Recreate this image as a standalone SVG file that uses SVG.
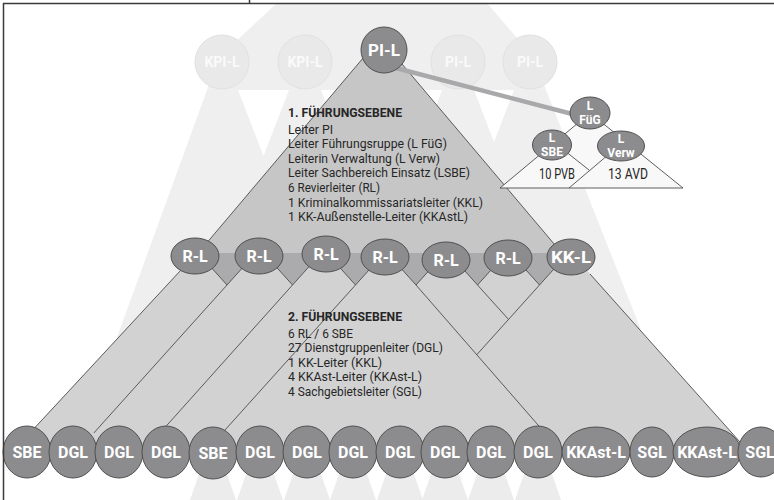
<svg xmlns="http://www.w3.org/2000/svg" width="774" height="500" viewBox="0 0 774 500">
<defs>
<style>
.fade{fill:#efeff0}
.hole{fill:#ffffff}
.ghost{fill:#e9e9ea;stroke:#e1e1e2;stroke-width:1}
.gt{font-family:Roboto,"Liberation Sans",sans-serif;font-weight:bold;font-size:14px;fill:#fafafa;text-anchor:middle}
.node{fill:#8c8c8e;stroke:#505050;stroke-width:1}
.nt{font-family:Roboto,"Liberation Sans",sans-serif;font-weight:bold;font-size:16px;fill:#ffffff;text-anchor:middle}
.st{font-family:Roboto,"Liberation Sans",sans-serif;font-weight:bold;font-size:12px;fill:#ffffff;text-anchor:middle}
.ln{fill:none;stroke:#4d4d4d;stroke-width:0.9}
.fun{fill:#ababad}
.body{font-family:Roboto,"Liberation Sans",sans-serif;font-size:12.3px;fill:#262626}
.hd{font-weight:bold}
.sub{font-family:Roboto,"Liberation Sans",sans-serif;font-size:14px;fill:#262626;text-anchor:middle}
.gtrap{fill:#ececed}
</style>
</defs>
<rect x="0" y="0" width="774" height="500" fill="#ffffff"/>

<g id="background">
<polygon class="fade" points="277,3 487,3 536,60 546,90 641,330 116,340 207,90 216,60"/>
<polygon class="hole" points="238,90 289,90 263.5,156"/>
<polygon class="hole" points="321,90 345,90 326.4,104"/>
<polygon class="hole" points="418,90 442,90 435.7,106.4"/>
<polygon class="hole" points="474,90 514,90 494,142"/>
<g class="gtrap">
<polygon points="199,474 227,474 236,500 190,500"/>
<polygon points="246,474 274,474 283,500 237,500"/>
<polygon points="293,474 321,474 330,500 284,500"/>
<polygon points="339,474 367,474 376,500 330,500"/>
<polygon points="386,474 414,474 423,500 377,500"/>
<polygon points="431,474 459,474 468,500 422,500"/>
<polygon points="477,474 505,474 514,500 468,500"/>
<polygon points="524,474 552,474 561,500 515,500"/>
</g>
</g>

<g id="ghost-nodes">
<g id="ghost-kpi1"><circle class="ghost" cx="222" cy="62" r="27"/><text class="gt" x="222" y="67">KPI-L</text></g>
<g id="ghost-kpi2"><circle class="ghost" cx="305" cy="62" r="27"/><text class="gt" x="305" y="67">KPI-L</text></g>
<g id="ghost-pi1"><circle class="ghost" cx="458" cy="62" r="27"/><text class="gt" x="458" y="67">PI-L</text></g>
<g id="ghost-pi2"><circle class="ghost" cx="530" cy="62" r="27"/><text class="gt" x="530" y="67">PI-L</text></g>
</g>

<g id="areas">
<polygon fill="#d2d2d3" points="193,257 575,257 748,451 13,451"/>
<polygon fill="#c6c6c7" points="380,38 194,258 566,258"/>
<rect class="fun" x="195" y="253" width="376" height="13"/>
<polygon class="fun" points="206.3,262 247.7,262 227,285"/>
<polygon class="fun" points="271.8,262 313.2,262 292.5,285"/>
<polygon class="fun" points="334.8,262 376.2,262 355.5,285"/>
<polygon class="fun" points="395.3,262 436.7,262 416,285"/>
<polygon class="fun" points="456.8,262 498.2,262 477.5,285"/>
<polygon class="fun" points="518.8,262 560.2,262 539.5,285"/>
</g>

<g id="connectors">
<line class="ln" x1="380" y1="38" x2="194" y2="258"/>
<line class="ln" x1="380" y1="38" x2="566" y2="258"/>
<line class="ln" x1="181" y1="270" x2="29" y2="434"/>
<line class="ln" x1="590" y1="274" x2="740" y2="442"/>
<polyline class="ln" points="206.3,262 227,285"/>
<polyline class="ln" points="247.7,262 227,285 93.8,433"/>
<polyline class="ln" points="271.8,262 292.5,285"/>
<polyline class="ln" points="313.2,262 292.5,285 160,433"/>
<polyline class="ln" points="334.8,262 355.5,285"/>
<polyline class="ln" points="376.2,262 355.5,285 222.3,433"/>
<polyline class="ln" points="395.3,262 416,285 545,433"/>
<polyline class="ln" points="436.7,262 416,285"/>
<polyline class="ln" points="456.8,262 477.5,285 508.5,319.4"/>
<polyline class="ln" points="498.2,262 477.5,285"/>
<polyline class="ln" points="518.8,262 539.5,285"/>
<polyline class="ln" points="560.2,262 539.5,285 476.8,354.7"/>
<line x1="390" y1="66.5" x2="578" y2="115.5" stroke="#a9a9ab" stroke-width="4.5" stroke-linecap="round"/>
</g>

<g id="sub-area">
<polygon fill="#f8f8f8" stroke="#4d4d4d" stroke-width="0.9" points="590,113 500,188 683,188"/>
<line class="ln" x1="560" y1="147" x2="589" y2="170"/>
<line class="ln" x1="615" y1="149" x2="569" y2="188"/>
<text class="sub" x="557" y="179" textLength="36" lengthAdjust="spacingAndGlyphs">10 PVB</text>
<text class="sub" x="628" y="179" textLength="40" lengthAdjust="spacingAndGlyphs">13 AVD</text>
</g>

<g id="node-pil"><ellipse class="node" cx="384" cy="50" rx="23" ry="23"/><text class="nt" x="384" y="56" style="font-size:17px">PI-L</text></g>
<g id="node-lfueg"><ellipse class="node" cx="590" cy="113" rx="20" ry="16"/><text class="st" x="590" y="110">L</text><text class="st" x="590" y="124">FüG</text></g>
<g id="node-lsbe"><ellipse class="node" cx="552" cy="145" rx="19.5" ry="15"/><text class="st" x="552" y="142">L</text><text class="st" x="552" y="156">SBE</text></g>
<g id="node-lverw"><ellipse class="node" cx="621" cy="146" rx="23.5" ry="15"/><text class="st" x="621" y="143">L</text><text class="st" x="621" y="157">Verw</text></g>

<g id="node-rl1"><ellipse class="node" cx="195" cy="256" rx="24" ry="18"/><text class="nt" x="195" y="262">R-L</text></g>
<g id="node-rl2"><ellipse class="node" cx="259" cy="256" rx="24" ry="18"/><text class="nt" x="259" y="262">R-L</text></g>
<g id="node-rl3"><ellipse class="node" cx="326" cy="254" rx="24" ry="18"/><text class="nt" x="326" y="260">R-L</text></g>
<g id="node-rl4"><ellipse class="node" cx="385" cy="257" rx="24" ry="18"/><text class="nt" x="385" y="263">R-L</text></g>
<g id="node-rl5"><ellipse class="node" cx="446" cy="260" rx="24" ry="18"/><text class="nt" x="446" y="266">R-L</text></g>
<g id="node-rl6"><ellipse class="node" cx="508" cy="258" rx="24" ry="18"/><text class="nt" x="508" y="264">R-L</text></g>
<g id="node-kkl"><ellipse class="node" cx="571" cy="257" rx="24" ry="18"/><text class="nt" x="571" y="263" textLength="40" lengthAdjust="spacingAndGlyphs">KK-L</text></g>

<g id="bottom-nodes">
<g id="node-sbe1"><ellipse class="node" cx="27" cy="452" rx="24" ry="26"/><text class="nt" x="27" y="458">SBE</text></g>
<g id="node-dgl1"><ellipse class="node" cx="73" cy="452" rx="24" ry="26"/><text class="nt" x="73" y="458">DGL</text></g>
<g id="node-dgl2"><ellipse class="node" cx="119" cy="452" rx="24" ry="26"/><text class="nt" x="119" y="458">DGL</text></g>
<g id="node-dgl3"><ellipse class="node" cx="166" cy="452" rx="24" ry="26"/><text class="nt" x="166" y="458">DGL</text></g>
<g id="node-sbe2"><ellipse class="node" cx="213" cy="453" rx="24" ry="26"/><text class="nt" x="213" y="459">SBE</text></g>
<g id="node-dgl4"><ellipse class="node" cx="260" cy="452" rx="24" ry="26"/><text class="nt" x="260" y="458">DGL</text></g>
<g id="node-dgl5"><ellipse class="node" cx="307" cy="452" rx="24" ry="26"/><text class="nt" x="307" y="458">DGL</text></g>
<g id="node-dgl6"><ellipse class="node" cx="353" cy="452" rx="24" ry="26"/><text class="nt" x="353" y="458">DGL</text></g>
<g id="node-dgl7"><ellipse class="node" cx="400" cy="452" rx="24" ry="26"/><text class="nt" x="400" y="458">DGL</text></g>
<g id="node-dgl8"><ellipse class="node" cx="445" cy="452" rx="24" ry="26"/><text class="nt" x="445" y="458">DGL</text></g>
<g id="node-dgl9"><ellipse class="node" cx="491" cy="452" rx="24" ry="26"/><text class="nt" x="491" y="458">DGL</text></g>
<g id="node-dgl10"><ellipse class="node" cx="538" cy="452" rx="24" ry="26"/><text class="nt" x="538" y="458">DGL</text></g>
<g id="node-kkast1"><ellipse class="node" cx="596" cy="452" rx="34" ry="25"/><text class="nt" x="596" y="458">KKAst-L</text></g>
<g id="node-sgl1"><ellipse class="node" cx="652" cy="452" rx="22" ry="25"/><text class="nt" x="652" y="458">SGL</text></g>
<g id="node-kkast2"><ellipse class="node" cx="707" cy="452" rx="34" ry="25"/><text class="nt" x="707" y="458">KKAst-L</text></g>
<g id="node-sgl2"><ellipse class="node" cx="761" cy="452" rx="23" ry="25"/><text class="nt" x="760" y="458">SGL</text></g>
</g>

<g id="text-level1" class="body">
<text class="hd" x="288" y="116.5" textLength="114" lengthAdjust="spacingAndGlyphs">1. FÜHRUNGSEBENE</text>
<text x="288" y="133.5" textLength="45" lengthAdjust="spacingAndGlyphs">Leiter PI</text>
<text x="288" y="148" textLength="159" lengthAdjust="spacingAndGlyphs">Leiter Führungsruppe (L FüG)</text>
<text x="288" y="162.5" textLength="152" lengthAdjust="spacingAndGlyphs">Leiterin Verwaltung (L Verw)</text>
<text x="288" y="177" textLength="182" lengthAdjust="spacingAndGlyphs">Leiter Sachbereich Einsatz (LSBE)</text>
<text x="288" y="192" textLength="92" lengthAdjust="spacingAndGlyphs">6 Revierleiter (RL)</text>
<text x="288" y="206.5" textLength="195" lengthAdjust="spacingAndGlyphs">1 Kriminalkommissariatsleiter (KKL)</text>
<text x="288" y="221" textLength="180" lengthAdjust="spacingAndGlyphs">1 KK-Außenstelle-Leiter (KKAstL)</text>
</g>

<g id="text-level2" class="body">
<text class="hd" x="288" y="321" textLength="114" lengthAdjust="spacingAndGlyphs">2. FÜHRUNGSEBENE</text>
<text x="288" y="337.5" textLength="65" lengthAdjust="spacingAndGlyphs">6 RL / 6 SBE</text>
<text x="288" y="352" textLength="155" lengthAdjust="spacingAndGlyphs">27 Dienstgruppenleiter (DGL)</text>
<text x="288" y="366.5" textLength="94" lengthAdjust="spacingAndGlyphs">1 KK-Leiter (KKL)</text>
<text x="288" y="381" textLength="134" lengthAdjust="spacingAndGlyphs">4 KKAst-Leiter (KKAst-L)</text>
<text x="288" y="395.5" textLength="134" lengthAdjust="spacingAndGlyphs">4 Sachgebietsleiter (SGL)</text>
</g>

<g id="frame" fill="none" stroke="#3a3a3a" stroke-width="1.5">
<path d="M3.5,500 V3.5 H774"/>
<path d="M249.5,0 V3.5"/>
</g>
</svg>
